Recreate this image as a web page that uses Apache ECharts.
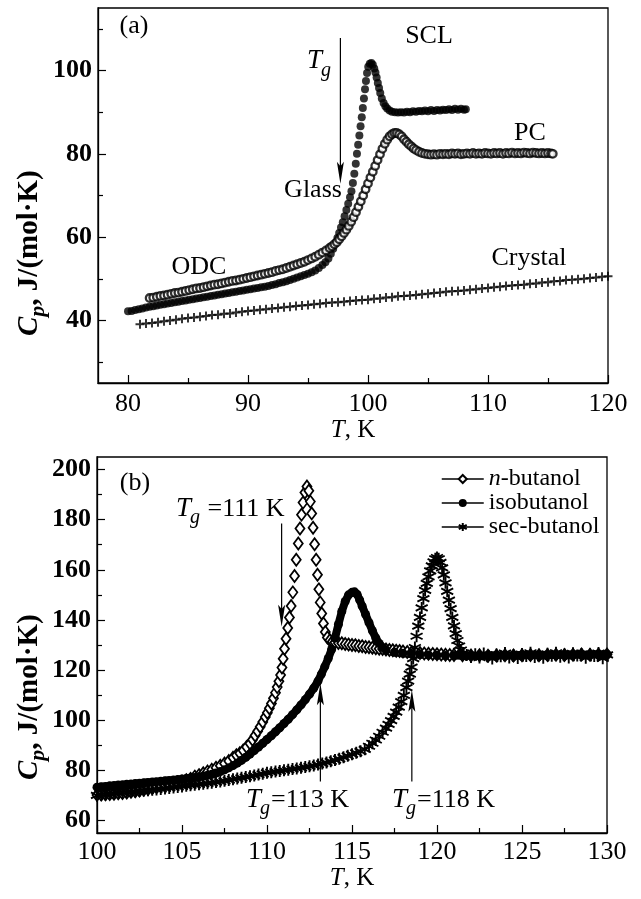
<!DOCTYPE html>
<html>
<head>
<meta charset="utf-8">
<script src="https://cdn.jsdelivr.net/npm/echarts@6.0.0/dist/echarts.min.js"></script>
<style>
  html, body { margin: 0; padding: 0; background: #fff; }
  #main { width: 641px; height: 899px; }
</style>
</head>
<body>
<div id="main"></div>
<script>
// ---- panel (a) data: [T, Cp] ----
var crystalA = [[81,39.1],[81.5,39.3],[82,39.4],[82.5,39.6],[83,39.8],[83.5,40.0],[84,40.2],[84.5,40.4],[85,40.6],[85.5,40.7],[86,40.9],[86.5,41.1],[87,41.3],[87.5,41.4],[88,41.6],[88.5,41.7],[89,41.9],[89.5,42.1],[90,42.3],[90.5,42.4],[91,42.6],[91.5,42.7],[92,42.9],[92.5,43.0],[93,43.2],[93.5,43.3],[94,43.5],[94.5,43.6],[95,43.7],[95.5,43.9],[96,44.0],[96.5,44.2],[97,44.3],[97.5,44.4],[98,44.5],[98.5,44.7],[99,44.8],[99.5,44.9],[100,45.0],[100.5,45.2],[101,45.3],[101.5,45.5],[102,45.6],[102.5,45.8],[103,45.9],[103.5,46.0],[104,46.1],[104.5,46.3],[105,46.4],[105.5,46.6],[106,46.7],[106.5,46.9],[107,47.0],[107.5,47.1],[108,47.2],[108.5,47.4],[109,47.5],[109.5,47.7],[110,47.8],[110.5,48.0],[111,48.1],[111.5,48.3],[112,48.4],[112.5,48.5],[113,48.6],[113.5,48.8],[114,48.9],[114.5,49.1],[115,49.2],[115.5,49.4],[116,49.5],[116.5,49.7],[117,49.8],[117.5,49.9],[118,50.0],[118.5,50.2],[119,50.3],[119.5,50.5],[120,50.6]];

// filled circles (glass -> SCL)
var sclA = [[80.0,42.2],[80.3,42.3],[80.6,42.5],[80.9,42.7],[81.2,42.9],[81.5,43.1],[81.8,43.3],[82.1,43.4],[82.4,43.6],[82.7,43.8],[83.0,43.9],[83.3,44.1],[83.6,44.2],[83.9,44.4],[84.2,44.5],[84.5,44.7],[84.8,44.8],[85.1,45.0],[85.4,45.1],[85.7,45.3],[86.0,45.4],[86.3,45.6],[86.6,45.7],[86.9,45.9],[87.2,46.0],[87.5,46.2],[87.8,46.3],[88.1,46.5],[88.4,46.6],[88.7,46.8],[89.0,46.9],[89.3,47.1],[89.6,47.2],[89.9,47.4],[90.2,47.5],[90.5,47.7],[90.8,47.8],[91.1,48.0],[91.4,48.1],[91.7,48.3],[92.0,48.5],[92.3,48.7],[92.6,49.0],[92.9,49.2],[93.2,49.4],[93.5,49.7],[93.8,50.0],[94.1,50.3],[94.4,50.6],[94.7,50.9],[95.0,51.2],[95.3,51.6],[95.6,52.0],[95.9,52.6],[96.2,53.3],[96.45,54.0],[96.7,54.9],[96.9,56.0],[97.1,57.2],[97.3,58.6],[97.45,59.8],[97.6,61.0],[97.75,62.3],[97.9,63.6],[98.05,65.0],[98.2,66.5],[98.35,68.0],[98.5,69.6],[98.62,71.0],[98.74,73.0],[98.86,75.2],[98.98,77.6],[99.08,80.0],[99.18,82.2],[99.28,84.4],[99.38,86.6],[99.48,88.8],[99.57,91.0],[99.66,93.3],[99.75,95.5],[99.83,97.5],[99.92,99.4],[100.02,100.9],[100.15,101.6],[100.28,101.8],[100.4,101.4],[100.52,100.5],[100.62,99.5],[100.72,98.3],[100.82,97.0],[100.92,95.8],[101.02,94.6],[101.15,93.3],[101.3,92.2],[101.45,91.4],[101.6,90.9],[101.8,90.4],[102.0,90.1],[102.25,90.0],[102.5,89.9],[102.75,90.0],[103.0,89.9],[103.25,90.1],[103.5,90.0],[103.75,90.2],[104.0,90.1],[104.25,90.3],[104.5,90.2],[104.75,90.4],[105.0,90.2],[105.25,90.5],[105.5,90.3],[105.75,90.5],[106.0,90.4],[106.25,90.6],[106.5,90.5],[106.75,90.7],[107.0,90.5],[107.25,90.8],[107.5,90.6],[107.75,90.8],[108.0,90.6],[108.15,90.7]];

// open circles (ODC -> PC)
var pcA = [[81.8,45.4],[82.1,45.5],[82.4,45.7],[82.7,45.9],[83.0,46.0],[83.3,46.2],[83.6,46.4],[83.9,46.6],[84.2,46.7],[84.5,46.9],[84.8,47.1],[85.1,47.3],[85.4,47.5],[85.7,47.7],[86.0,47.8],[86.3,48.0],[86.6,48.2],[86.9,48.4],[87.2,48.6],[87.5,48.7],[87.8,48.9],[88.1,49.1],[88.4,49.3],[88.7,49.5],[89.0,49.6],[89.3,49.8],[89.6,50.0],[89.9,50.2],[90.2,50.4],[90.5,50.6],[90.8,50.8],[91.1,51.0],[91.4,51.2],[91.7,51.4],[92.0,51.6],[92.3,51.9],[92.6,52.1],[92.9,52.3],[93.2,52.6],[93.5,52.9],[93.8,53.2],[94.1,53.5],[94.4,53.8],[94.7,54.1],[95.0,54.5],[95.3,54.9],[95.6,55.3],[95.9,55.8],[96.2,56.3],[96.5,56.8],[96.8,57.4],[97.0,57.8],[97.2,58.3],[97.4,58.8],[97.6,59.5],[97.8,60.2],[98.0,61.0],[98.2,61.8],[98.4,62.7],[98.6,63.7],[98.8,64.8],[99.0,66.0],[99.2,67.3],[99.4,68.6],[99.6,70.0],[99.8,71.5],[100.0,72.9],[100.2,74.3],[100.4,75.7],[100.6,77.1],[100.8,78.5],[101.0,79.9],[101.2,81.2],[101.4,82.4],[101.6,83.4],[101.8,84.2],[102.0,84.7],[102.2,85.0],[102.4,85.0],[102.6,84.7],[102.8,84.2],[103.0,83.5],[103.2,82.9],[103.4,82.3],[103.6,81.8],[103.8,81.3],[104.0,80.9],[104.25,80.5],[104.5,80.2],[104.75,80.0],[105.0,79.9],[105.25,79.8],[105.5,79.9],[105.75,79.8],[106.0,80.0],[106.25,79.9],[106.5,80.0],[106.75,79.9],[107.0,80.1],[107.25,80.0],[107.5,80.1],[107.75,79.9],[108.0,80.0],[108.25,80.1],[108.5,80.0],[108.75,80.2],[109.0,80.0],[109.25,80.1],[109.5,80.0],[109.75,80.2],[110.0,80.1],[110.25,80.0],[110.5,80.2],[110.75,80.1],[111.0,80.2],[111.25,80.0],[111.5,80.2],[111.75,80.1],[112.0,80.3],[112.25,80.1],[112.5,80.2],[112.75,80.1],[113.0,80.3],[113.25,80.2],[113.5,80.1],[113.75,80.3],[114.0,80.2],[114.25,80.1],[114.5,80.2],[114.75,80.1],[115.0,80.2],[115.25,80.1],[115.4,80.0]];

// ---- panel (b) data: [T, Cp] ----
var nButanol = [[100,70.2],[100.25,70.3],[100.5,70.4],[100.75,70.5],[101,70.6],[101.25,70.8],[101.5,70.9],[101.75,71.1],[102,71.4],[102.25,71.6],[102.5,71.9],[102.75,72.2],[103,72.5],[103.25,72.9],[103.5,73.3],[103.75,73.7],[104,74.0],[104.25,74.4],[104.5,74.8],[104.75,75.2],[105,75.6],[105.25,76.1],[105.5,76.6],[105.75,77.5],[106,78.1],[106.25,78.8],[106.5,79.5],[106.75,80.2],[107,81.0],[107.25,81.8],[107.5,82.7],[107.75,83.7],[108,85.0],[108.2,86.0],[108.4,86.8],[108.6,87.9],[108.8,89.3],[109,90.7],[109.15,92.2],[109.3,93.9],[109.45,95.6],[109.6,97.4],[109.75,99.3],[109.9,101.3],[110.02,103.0],[110.14,104.8],[110.26,106.7],[110.38,108.8],[110.5,111.0],[110.6,113.2],[110.7,115.5],[110.8,118.0],[110.88,121.0],[110.95,124.5],[111.03,128.5],[111.12,132.5],[111.22,136.8],[111.32,141.0],[111.42,145.6],[111.52,151.0],[111.62,157.5],[111.72,164.0],[111.84,170.5],[111.94,176.5],[112.03,182.0],[112.12,186.8],[112.23,190.8],[112.35,193.2],[112.46,191.5],[112.55,187.2],[112.63,182.5],[112.71,176.8],[112.8,170.2],[112.89,164.0],[112.97,158.0],[113.05,152.2],[113.13,147.0],[113.22,142.6],[113.32,138.6],[113.43,135.2],[113.55,133.0],[113.7,131.9],[113.85,131.4],[114,131.1],[114.2,130.8],[114.4,130.7],[114.6,130.4],[114.8,130.2],[115,130.0],[115.2,129.9],[115.4,129.6],[115.6,129.5],[115.8,129.2],[116,129.1],[116.2,128.9],[116.4,128.7],[116.6,128.5],[116.8,128.4],[117,128.2],[117.2,128.0],[117.4,127.9],[117.6,127.7],[117.8,127.6],[118,127.4],[118.25,127.2],[118.5,127.0],[118.75,126.9],[119,126.8],[119.25,126.6],[119.5,126.5],[119.75,126.4],[120,126.3],[120.25,126.2],[120.5,126.1],[120.75,126.0],[121,126.0],[121.5,125.9],[122,125.8],[122.5,125.9],[123,125.7],[123.5,125.8],[124,125.9],[124.5,125.8],[125,125.9],[125.5,126.0],[126,125.9],[126.5,126.0],[127,126.1],[127.5,126.0],[128,126.1],[128.5,126.2],[129,126.1],[129.5,126.2],[130,126.2]];

var isoButanol = [[100,73.3],[100.25,73.5],[100.5,73.6],[100.75,73.8],[101,73.9],[101.25,74.1],[101.5,74.2],[101.75,74.4],[102,74.5],[102.25,74.7],[102.5,74.8],[102.75,75.0],[103,75.1],[103.25,75.3],[103.5,75.4],[103.75,75.6],[104,75.8],[104.25,75.9],[104.5,76.1],[104.75,76.3],[105,76.5],[105.25,76.7],[105.5,76.9],[105.75,77.1],[106,77.4],[106.25,77.7],[106.5,78.0],[106.75,78.4],[107,78.9],[107.25,79.5],[107.5,80.2],[107.75,81.0],[108,81.9],[108.25,82.9],[108.5,84.0],[108.75,85.2],[109,86.5],[109.25,87.9],[109.5,89.3],[109.75,90.8],[110,92.3],[110.25,93.8],[110.5,95.4],[110.75,97.0],[111,98.7],[111.25,100.4],[111.5,102.2],[111.75,104.1],[112,106.1],[112.25,108.2],[112.5,110.4],[112.75,112.8],[113,115.6],[113.2,118.4],[113.4,121.4],[113.6,124.6],[113.8,128.2],[114,132.8],[114.2,138.2],[114.4,143.4],[114.6,147.4],[114.8,150.0],[115,151.0],[115.15,151.2],[115.3,150.2],[115.45,148.0],[115.6,145.5],[115.8,142.2],[116,138.9],[116.2,135.7],[116.4,132.8],[116.6,130.6],[116.8,129.0],[117,128.0],[117.5,127.1],[118,126.7],[118.5,126.4],[119,126.2],[119.5,126.0],[120,125.9],[120.5,125.8],[121,125.8],[121.5,125.7],[122,125.8],[122.5,125.7],[123,125.8],[123.5,125.9],[124,125.8],[124.5,125.9],[125,126.0],[125.5,125.9],[126,126.0],[126.5,126.1],[127,126.0],[127.5,126.1],[128,126.2],[128.5,126.1],[129,126.2],[129.5,126.2],[130,126.3]];

var secButanol = [[100,70.0],[100.25,70.3],[100.5,70.4],[100.75,70.6],[101,70.8],[101.25,71.0],[101.5,71.1],[101.75,71.3],[102,71.4],[102.25,71.6],[102.5,71.8],[102.75,72.0],[103,72.1],[103.25,72.3],[103.5,72.4],[103.75,72.6],[104,72.8],[104.25,73.0],[104.5,73.2],[104.75,73.4],[105,73.6],[105.25,73.8],[105.5,74.0],[105.75,74.2],[106,74.4],[106.25,74.6],[106.5,74.8],[106.75,75.0],[107,75.3],[107.25,75.5],[107.5,75.8],[107.75,76.1],[108,76.4],[108.25,76.7],[108.5,77.0],[108.75,77.3],[109,77.6],[109.25,77.9],[109.5,78.3],[109.75,78.6],[110,79.0],[110.25,79.2],[110.5,79.5],[110.75,79.7],[111,80.0],[111.25,80.2],[111.5,80.5],[111.75,80.7],[112,81.0],[112.25,81.3],[112.5,81.6],[112.75,81.9],[113,82.3],[113.25,82.7],[113.5,83.1],[113.75,83.6],[114,84.1],[114.25,84.6],[114.5,85.2],[114.75,85.8],[115,86.4],[115.25,87.0],[115.5,87.6],[115.75,88.4],[116,89.6],[116.2,90.8],[116.4,92.1],[116.6,93.6],[116.8,95.2],[117,96.8],[117.15,98.3],[117.3,99.8],[117.45,101.5],[117.6,103.2],[117.75,105.2],[117.9,107.4],[118.05,109.9],[118.2,113.0],[118.3,115.6],[118.4,118.4],[118.5,121.2],[118.6,124.6],[118.7,129.0],[118.8,133.5],[118.9,137.5],[119,141.0],[119.1,144.8],[119.2,148.5],[119.3,151.8],[119.4,154.6],[119.5,157.2],[119.6,159.6],[119.7,161.6],[119.8,163.2],[119.9,164.4],[120,164.9],[120.1,164.4],[120.2,163.0],[120.3,160.8],[120.4,158.0],[120.5,154.8],[120.6,151.4],[120.7,147.9],[120.8,144.5],[120.9,141.0],[121,137.6],[121.1,134.5],[121.2,131.8],[121.3,129.6],[121.4,128.0],[121.55,126.8],[121.75,126.0],[122,125.2],[122.25,126.3],[122.5,125.0],[122.75,126.6],[123,125.4],[123.25,124.6],[123.5,126.2],[123.75,125.5],[124,126.8],[124.25,125.0],[124.5,125.9],[124.75,124.8],[125,126.4],[125.25,125.6],[125.5,126.9],[125.75,125.2],[126,126.1],[126.25,124.9],[126.5,126.5],[126.75,125.7],[127,126.9],[127.25,125.3],[127.5,126.2],[127.75,125.0],[128,126.7],[128.25,125.8],[128.5,126.4],[128.75,124.9],[129,126.3],[129.25,125.6],[129.5,126.8],[129.75,124.7],[130,126.1]];

// ---- ticks ----
var ticksAx = [80, 90, 100, 110, 120], minorAx = [85, 95, 105, 115];
var ticksAy = [40, 60, 80, 100], minorAy = [30, 50, 70, 90, 110];
var ticksBx = [100, 105, 110, 115, 120, 125, 130], minorBx = [102.5, 107.5, 112.5, 117.5, 122.5, 127.5];
var ticksBy = [60, 80, 100, 120, 140, 160, 180, 200], minorBy = [70, 90, 110, 130, 150, 170, 190];

var FONT = '"Liberation Serif", "Times New Roman", serif';
var BLACK = '#000';
var chart = echarts.init(document.getElementById('main'), null, {renderer: 'canvas'});

var asterisk = 'path://M0,-1L0,1M-0.866,-0.5L0.866,0.5M-0.866,0.5L0.866,-0.5';
var plus = 'path://M0,-1L0,1M-1,0L1,0';

function xAxisPair(grid, min, max, major, minor, gap, margin){
  return [{
    type: 'value', gridIndex: grid, min: min, max: max, position: 'bottom',
    axisLine: {show: true, lineStyle: {color: BLACK, width: 1.3}},
    axisTick: {show: true, inside: true, length: 8, customValues: major, lineStyle: {color: BLACK, width: 1.2}},
    axisLabel: {customValues: major, color: BLACK, fontFamily: FONT, fontSize: 26, margin: margin},
    splitLine: {show: false},
    name: '{i|T}, K', nameLocation: 'middle', nameGap: gap,
    nameTextStyle: {color: BLACK, fontFamily: FONT, fontSize: 25,
      rich: {i: {fontStyle: 'italic', fontFamily: FONT, fontSize: 25, color: BLACK}}}
  }, {
    type: 'value', gridIndex: grid, min: min, max: max, position: 'bottom',
    axisLine: {show: false},
    axisTick: {show: true, inside: true, length: 5, customValues: minor, lineStyle: {color: BLACK, width: 1.2}},
    axisLabel: {show: false}, splitLine: {show: false}
  }];
}

function yAxisPair(grid, min, max, major, minor){
  return [{
    type: 'value', gridIndex: grid, min: min, max: max, position: 'left',
    axisLine: {show: true, lineStyle: {color: BLACK, width: 1.3}},
    axisTick: {show: true, inside: true, length: 8, customValues: major, lineStyle: {color: BLACK, width: 1.2}},
    axisLabel: {customValues: major, color: BLACK, fontFamily: FONT, fontSize: 26, fontWeight: 'bold', margin: 6},
    splitLine: {show: false}
  }, {
    type: 'value', gridIndex: grid, min: min, max: max, position: 'left',
    axisLine: {show: false},
    axisTick: {show: true, inside: true, length: 5, customValues: minor, lineStyle: {color: BLACK, width: 1.2}},
    axisLabel: {show: false}, splitLine: {show: false}
  }];
}

var option = {
  backgroundColor: '#fff',
  animation: false,
  grid: [
    {left: 98, top: 8, width: 510, height: 375, show: true, borderColor: BLACK, borderWidth: 1.3, backgroundColor: 'transparent'},
    {left: 97, top: 457, width: 510, height: 376, show: true, borderColor: BLACK, borderWidth: 1.3, backgroundColor: 'transparent'}
  ],
  xAxis: xAxisPair(0, 77.5, 120, ticksAx, minorAx, 35, 8).concat(xAxisPair(1, 100, 130, ticksBx, minorBx, 31, 6)),
  yAxis: yAxisPair(0, 25, 115, ticksAy, minorAy).concat(yAxisPair(1, 55, 205, ticksBy, minorBy)),
  legend: {
    data: ['n-butanol', 'isobutanol', 'sec-butanol'],
    orient: 'vertical', left: 441, top: 467, padding: 0,
    itemWidth: 42, itemHeight: 10, itemGap: 0,
    selectedMode: false,
    lineStyle: {color: BLACK, width: 1.5, opacity: 1, type: 'solid'},
    formatter: function(name){ return name === 'n-butanol' ? '{i|n}-butanol' : name; },
    textStyle: {color: BLACK, fontFamily: FONT, fontSize: 24, lineHeight: 22,
      rich: {i: {fontStyle: 'italic', fontFamily: FONT, fontSize: 24, lineHeight: 22, color: BLACK}}}
  },
  series: [
    //(a) crystal
    {name: 'Crystal', type: 'scatter', xAxisIndex: 0, yAxisIndex: 0, data: crystalA,
      symbol: plus, symbolSize: 9, itemStyle: {color: 'none', borderColor: BLACK, borderWidth: 2}, silent: true},
    //(a) glass / SCL
    {name: 'SCL', type: 'scatter', xAxisIndex: 0, yAxisIndex: 0, data: sclA,
      symbol: 'circle', symbolSize: 8, itemStyle: {color: BLACK}, silent: true},
    //(a) ODC / PC
    {name: 'PC', type: 'scatter', xAxisIndex: 0, yAxisIndex: 0, data: pcA,
      symbol: 'circle', symbolSize: 7.5, itemStyle: {color: '#fff', borderColor: BLACK, borderWidth: 2.3}, silent: true},
    //(b)
    {name: 'n-butanol', type: 'line', xAxisIndex: 2, yAxisIndex: 2, data: nButanol,
      symbol: 'diamond', symbolSize: [9, 12], showSymbol: true,
      itemStyle: {color: '#fff', borderColor: BLACK, borderWidth: 1.8},
      lineStyle: {opacity: 0}, silent: true},
    {name: 'isobutanol', type: 'line', xAxisIndex: 2, yAxisIndex: 2, data: isoButanol,
      symbol: 'circle', symbolSize: 9, showSymbol: true,
      itemStyle: {color: BLACK}, lineStyle: {color: BLACK, width: 8}, silent: true},
    {name: 'sec-butanol', type: 'line', xAxisIndex: 2, yAxisIndex: 2, data: secButanol,
      symbol: asterisk, symbolSize: 12, showSymbol: true,
      itemStyle: {color: 'none', borderColor: BLACK, borderWidth: 1.9},
      lineStyle: {opacity: 0}, silent: true}
  ]
};
chart.setOption(option);

// ---- annotations ----
var ctx = document.createElement('canvas').getContext('2d');
function fontStr(s){
  return (s.it ? 'italic ' : 'normal ') + (s.b ? 'bold ' : 'normal ') + s.size + 'px ' + FONT;
}
// a run of text pieces laid out left to right
function run(x, y, segs, center){
  var w = 0, out = [];
  segs.forEach(function(s){ ctx.font = fontStr(s); s.w = ctx.measureText(s.t).width; w += s.w + (s.dx || 0); });
  var cx = center ? x - w / 2 : x;
  segs.forEach(function(s){
    cx += (s.dx || 0);
    out.push({type: 'text', x: cx, y: y + (s.dy || 0), silent: true,
      style: {text: s.t, font: fontStr(s), fill: BLACK, textAlign: 'left', textVerticalAlign: 'middle'}});
    cx += s.w;
  });
  return out;
}
function label(x, y, t){ return run(x, y, [{t: t, size: 26}], true); }
function tg(x, y, rest){
  return run(x, y, [{t: 'T', it: true, size: 27}, {t: 'g', it: true, size: 20, dy: 9, dx: -1}, {t: rest, size: 26, dx: 1}], false);
}
function arrow(si, T, c0, c1){
  var p0 = chart.convertToPixel({seriesIndex: si}, [T, c0]);
  var p1 = chart.convertToPixel({seriesIndex: si}, [T, c1]);
  var dir = p1[1] > p0[1] ? 1 : -1, L = 22, W = 3.5;
  return [
    {type: 'line', silent: true, shape: {x1: p0[0], y1: p0[1], x2: p1[0], y2: p1[1] - dir * L * 0.6}, style: {stroke: BLACK, lineWidth: 1.2}},
    {type: 'polygon', silent: true, shape: {points: [[p1[0], p1[1]], [p1[0] - W, p1[1] - dir * L], [p1[0], p1[1] - dir * L * 0.8], [p1[0] + W, p1[1] - dir * L]]}, style: {fill: BLACK}}
  ];
}
function yName(x, y){
  return {type: 'group', x: x, y: y, rotation: Math.PI / 2, silent: true,
    children: run(0, 0, [{t: 'C', it: true, b: true, size: 29}, {t: 'p', it: true, b: true, size: 22, dy: 8}, {t: ', J/(mol\u00b7K)', b: true, size: 29}], false)};
}

var g = [];
g = g.concat(label(134, 26, '(a)'), label(429, 36, 'SCL'), label(313, 190, 'Glass'),
  label(530, 133, 'PC'), label(199, 267, 'ODC'), label(529, 258, 'Crystal'));
g = g.concat(run(307, 61, [{t: 'T', it: true, size: 27}, {t: 'g', it: true, size: 20, dy: 10, dx: -1}], false));
g = g.concat(arrow(0, 97.7, 107.8, 72.8));
g = g.concat(label(135, 483, '(b)'));
g = g.concat(tg(176, 509, ' =111 K'), tg(246, 800, '=113 K'), tg(392, 800, '=118 K'));
g = g.concat(arrow(3, 110.86, 178.5, 137.3), arrow(3, 113.14, 75.5, 114.7), arrow(3, 118.52, 75.5, 112.1));
g.push(yName(30, 336), yName(30, 780));

chart.setOption({graphic: g});
</script>
</body>
</html>
